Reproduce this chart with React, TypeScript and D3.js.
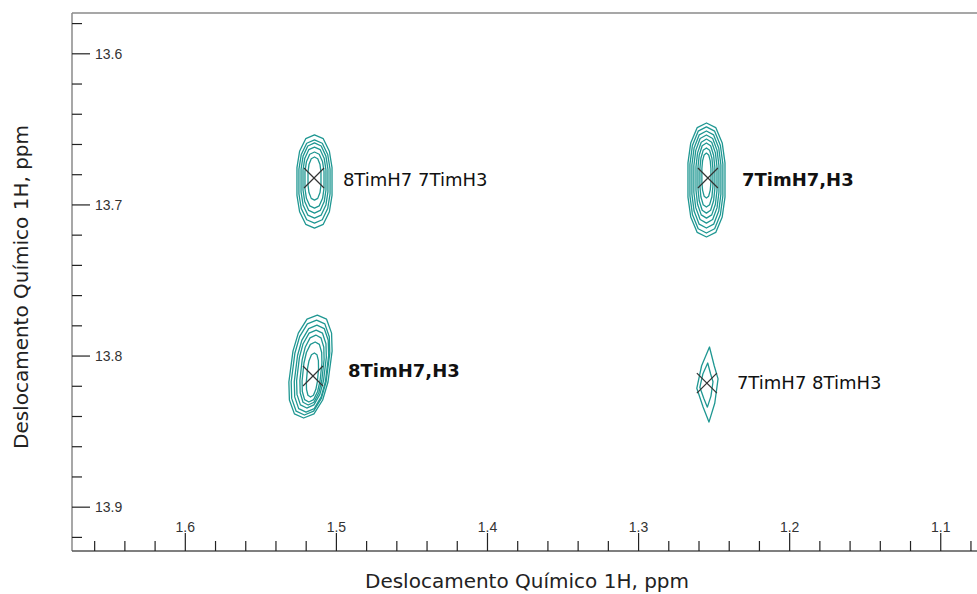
import React from 'react';
import * as d3 from 'd3';

// peak centres (ppm) and the contour rings
const peakNames = ['8TimH7 7TimH3', '8TimH7,H3', '7TimH7,H3', '7TimH7 8TimH3'];
const peakBold = [false, true, true, false];
const peakX = [1.5148, 1.5155, 1.2541, 1.2548];
const peakY = [13.6822, 13.8132, 13.6822, 13.8179];
const labelX = [1.4957, 1.4923, 1.2316, 1.2349];
const labelY = [13.6835, 13.8093, 13.6835, 13.8172];

// each ring: [left ppm, right ppm, top ppm, bottom ppm]
const ringsA = [
  [1.5261, 1.5029, 13.6537, 13.7153],
  [1.5248, 1.5042, 13.6570, 13.7120],
  [1.5234, 1.5056, 13.6590, 13.7087],
  [1.5221, 1.5069, 13.6617, 13.7054],
  [1.5208, 1.5082, 13.6650, 13.7021],
  [1.5188, 1.5102, 13.6683, 13.6968],
];
const ringsB = [
  [1.5301, 1.5042, 13.7729, 13.8410],
  [1.5287, 1.5056, 13.7762, 13.8390],
  [1.5268, 1.5062, 13.7795, 13.8371],
  [1.5254, 1.5076, 13.7828, 13.8344],
  [1.5234, 1.5089, 13.7861, 13.8324],
  [1.5221, 1.5102, 13.7907, 13.8304],
  [1.5195, 1.5122, 13.7980, 13.8271],
];
const ringsC = [
  [1.2673, 1.2428, 13.6458, 13.7212],
  [1.2660, 1.2442, 13.6484, 13.7186],
  [1.2647, 1.2455, 13.6511, 13.7153],
  [1.2634, 1.2468, 13.6537, 13.7120],
  [1.2620, 1.2481, 13.6564, 13.7087],
  [1.2607, 1.2495, 13.6590, 13.7054],
  [1.2594, 1.2508, 13.6623, 13.7014],
  [1.2581, 1.2521, 13.6657, 13.6954],
];
const ringsD = [
  [1.2614, 1.2475, 13.7940, 13.8437],
  [1.2594, 1.2508, 13.8046, 13.8338],
];
const peakRings = [ringsA, ringsB, ringsC, ringsD];

const xMajor = [1.6, 1.5, 1.4, 1.3, 1.2, 1.1];
const yMajor = [13.6, 13.7, 13.8, 13.9];

const W = 977;
const H = 594;
const left = 72;
const top = 13;
const bottom = 551;
const teal = '#1f9792';

const oval = [
  [0, -1], [0.5, -0.92], [0.85, -0.65], [1, -0.3], [1, 0.3], [0.85, 0.65], [0.5, 0.92],
  [0, 1], [-0.5, 0.92], [-0.85, 0.65], [-1, 0.3], [-1, -0.3], [-0.85, -0.65], [-0.5, -0.92],
];
const diamond = [
  [0.1, -1], [0.6, -0.5], [1, -0.15], [0.75, 0.5], [0.25, 1], [-0.35, 0.6], [-1, 0.1], [-0.6, -0.5],
];
const shapes = [oval, oval, oval, diamond];
const lean = [0, 0.35, 0, 0.1];

export default function App() {
  const x = d3.scaleLinear().domain([1.675, 1.076]).range([left, W]);
  const y = d3.scaleLinear().domain([13.573, 13.929]).range([top, bottom]);

  const xMinor = d3.range(1.66, 1.076, -0.02).filter(v => !xMajor.some(m => Math.abs(m - v) < 1e-6));
  const yMinor = d3.range(13.58, 13.93, 0.02).filter(v => !yMajor.some(m => Math.abs(m - v) < 1e-6));
  const fmt = d3.format('.1f');
  const line = d3.line().curve(d3.curveLinearClosed);

  const ringPath = (r, shape, k) => {
    const x0 = x(r[0]), x1 = x(r[1]), y0 = y(r[2]), y1 = y(r[3]);
    const cx = (x0 + x1) / 2, cy = (y0 + y1) / 2;
    const hw = (x1 - x0) / 2, hh = (y1 - y0) / 2;
    return line(shape.map(([u, v]) => [cx + u * hw - k * v * hw, cy + v * hh]));
  };

  return (
    <svg width={W} height={H} style={{ position: 'absolute', left: 0, top: 0, background: '#fff' }}>
      {/* frame */}
      <line x1={left} x2={W} y1={top} y2={top} stroke="#8a8a8a" strokeWidth={1.5} />
      <line x1={left} x2={left} y1={top} y2={bottom} stroke="#8a8a8a" strokeWidth={1.5} />
      <line x1={left} x2={W} y1={bottom} y2={bottom} stroke="#555" strokeWidth={1.5} />

      {/* y ticks */}
      {yMinor.map((v, i) => (
        <line key={'ym' + i} x1={left} x2={left + 10} y1={y(v)} y2={y(v)} stroke="#222" strokeWidth={1.2} />
      ))}
      {yMajor.map((v, i) => (
        <g key={'yM' + i}>
          <line x1={left} x2={left + 18} y1={y(v)} y2={y(v)} stroke="#222" strokeWidth={1.2} />
          <text x={left + 23} y={y(v)} dy="0.35em" fontFamily="Liberation Sans, Arial, sans-serif"
            fontSize={14} fill="#333">{fmt(v)}</text>
        </g>
      ))}

      {/* x ticks */}
      {xMinor.map((v, i) => (
        <line key={'xm' + i} x1={x(v)} x2={x(v)} y1={bottom} y2={bottom - 10} stroke="#222" strokeWidth={1.2} />
      ))}
      {xMajor.map((v, i) => (
        <g key={'xM' + i}>
          <line x1={x(v)} x2={x(v)} y1={bottom} y2={bottom - 18} stroke="#222" strokeWidth={1.2} />
          <text x={x(v)} y={bottom - 19} textAnchor="middle" fontFamily="Liberation Sans, Arial, sans-serif"
            fontSize={14} fill="#333">{fmt(v)}</text>
        </g>
      ))}

      {/* contours */}
      {peakRings.map((rings, p) => (
        <g key={'pk' + p} fill="none" stroke={teal} strokeWidth={1.3} strokeLinejoin="round">
          {rings.map((r, i) => (
            <path key={i} d={ringPath(r, shapes[p], lean[p])} />
          ))}
        </g>
      ))}

      {/* peak markers */}
      {peakX.map((v, p) => {
        const cx = x(v), cy = y(peakY[p]);
        return (
          <g key={'mk' + p} stroke="#333" strokeWidth={1.2}>
            <line x1={cx - 10} x2={cx + 10} y1={cy - 10} y2={cy + 10} />
            <line x1={cx - 10} x2={cx + 10} y1={cy + 10} y2={cy - 10} />
          </g>
        );
      })}

      {/* peak labels */}
      {peakNames.map((name, p) => (
        <text key={'lb' + p} x={x(labelX[p])} y={y(labelY[p])} dy="0.36em"
          fontFamily="DejaVu Sans, sans-serif" fontSize={18}
          fontWeight={peakBold[p] ? 'bold' : 'normal'} fill="#111">{name}</text>
      ))}

      {/* axis titles */}
      <text x={527} y={588} textAnchor="middle" fontFamily="DejaVu Sans, sans-serif" fontSize={20} fill="#222">
        Deslocamento Químico 1H, ppm
      </text>
      <text transform="translate(28,287) rotate(-90)" textAnchor="middle" fontFamily="DejaVu Sans, sans-serif"
        fontSize={20} fill="#222">
        Deslocamento Químico 1H, ppm
      </text>
    </svg>
  );
}
